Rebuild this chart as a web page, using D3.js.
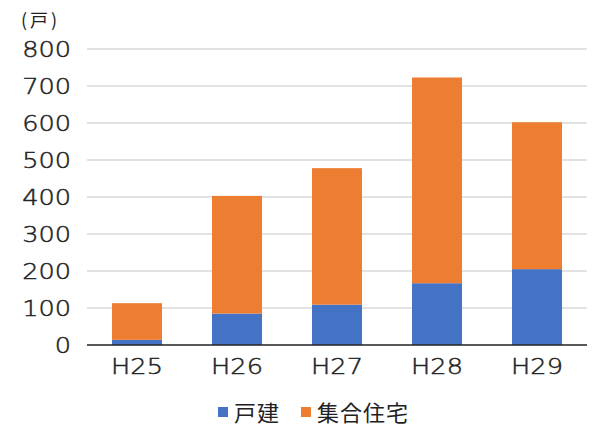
<!DOCTYPE html>
<html><head><meta charset="utf-8">
<script src="https://cdn.jsdelivr.net/npm/d3@7"></script>
<style>body{margin:0;background:#fff}svg{display:block}</style>
</head><body><svg id="c" width="596" height="427"></svg>
<script>
const categories = ["H25","H26","H27","H28","H29"];
const detached = [14, 85, 109, 167, 205];      // 戸建
const collective = [99, 318, 369, 556, 397];   // 集合住宅
const yTicks = [0,100,200,300,400,500,600,700,800];
const seriesNames = ["戸建","集合住宅"];
const colors = ["#4472C4","#ED7D31"];

const numFont = "'DejaVu Sans', sans-serif";
const jpFont = "'Noto Sans CJK JP', 'Noto Sans', sans-serif";
const stretch = 1.22;   // wide numerals
const svg = d3.select("#c");
const x = d3.scaleBand().domain(categories).range([87,587]).paddingInner(0.5).paddingOuter(0.25);
const y = d3.scaleLinear().domain([0,800]).range([345,49]);

function numStyle(sel){
  sel.style("font-size","21px").style("font-family",numFont).style("fill","#222")
     .style("font-weight",200).style("stroke","#222").style("stroke-width","0.45px")
     .attr("transform",`scale(${stretch},1)`);
}

// gridlines
svg.append("g").selectAll("line").data(yTicks.filter(d=>d>0)).join("line")
  .attr("x1",87).attr("x2",587).attr("y1",d=>y(d)).attr("y2",d=>y(d))
  .attr("stroke","#d9d9d9").attr("stroke-width",1.3);

// y axis labels
const yAxis = d3.axisLeft(y).tickValues(yTicks).tickSize(0);
const gy = svg.append("g").attr("transform","translate(87,0)").call(yAxis);
gy.select(".domain").remove();
gy.selectAll("text").call(numStyle).attr("x",-16/stretch).attr("dy","0.36em");

// stacked bars
const rows = categories.map((c,i)=>({cat:c, 戸建:detached[i], 集合住宅:collective[i]}));
const stack = d3.stack().keys(seriesNames)(rows);
svg.append("g").selectAll("g").data(stack).join("g").attr("fill",(d,i)=>colors[i])
  .selectAll("rect").data(d=>d).join("rect")
  .attr("x",d=>x(d.data.cat)).attr("width",x.bandwidth())
  .attr("y",d=>y(d[1])).attr("height",d=>y(d[0])-y(d[1]));

// baseline
svg.append("line").attr("x1",87).attr("x2",587).attr("y1",y(0)).attr("y2",y(0))
  .attr("stroke","#222").attr("stroke-width",1.3);

// x axis labels
const xAxis = d3.axisBottom(x).tickSize(0).tickPadding(14);
const gx = svg.append("g").attr("transform",`translate(0,${y(0)})`).call(xAxis);
gx.select(".domain").remove();
gx.selectAll("text").call(numStyle);

// unit label
svg.append("text").attr("x",21).attr("y",27).style("font-size","18px").style("font-family",jpFont)
  .style("font-weight",400).style("fill","#222").style("letter-spacing","3px").text("(戸)");

// legend
const legend = [{name:"戸建",x:218},{name:"集合住宅",x:301}];
legend.forEach((l,i)=>{
  svg.append("rect").attr("x",l.x).attr("y",407).attr("width",10).attr("height",10).attr("fill",colors[i]);
  svg.append("text").attr("x",l.x+16).attr("y",421).style("font-size","22px").style("font-family",jpFont)
    .style("font-weight",400).style("fill","#222").style("letter-spacing","1px").text(l.name);
});
</script></body></html>
